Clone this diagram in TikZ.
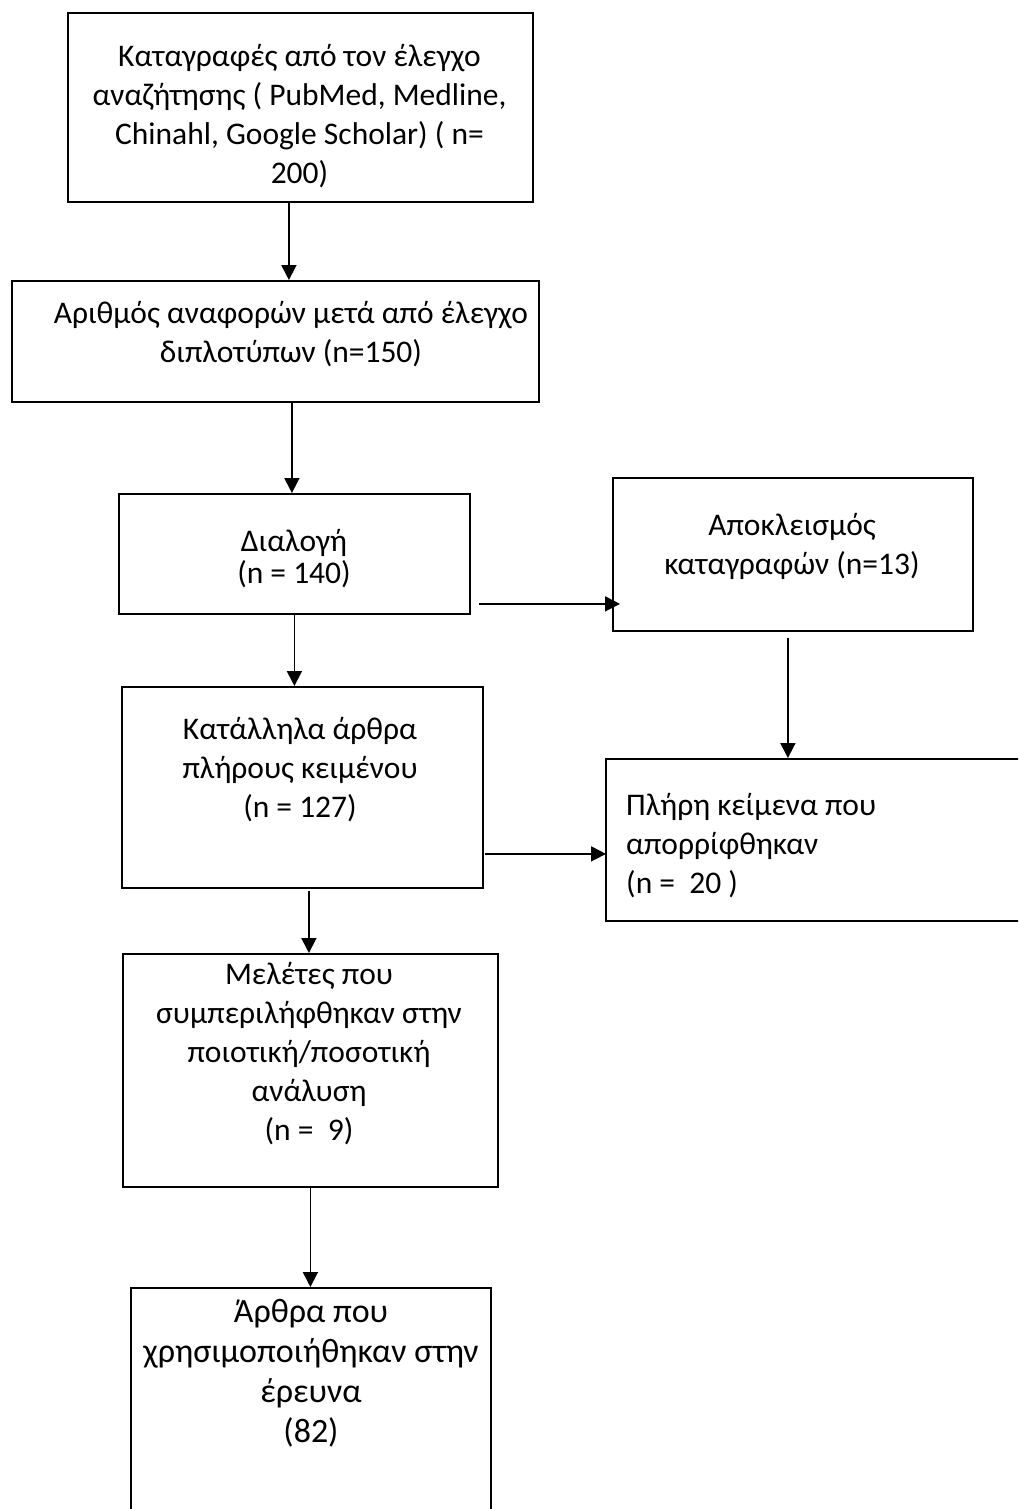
\documentclass[tikz,border=0pt]{standalone}
\usepackage{fontspec}
\setmainfont{Carlito}
\usetikzlibrary{arrows.meta,positioning}

\tikzset{
  box/.style={draw, line width=1.8pt, inner sep=0pt, anchor=north west},
  txt/.style={align=center, inner sep=0pt, anchor=base, font=\fontsize{31.5}{39}\selectfont},
  flow/.style={-{Triangle[length=15pt,width=15pt]}, line width=1.8pt},
}

\begin{document}
\begin{tikzpicture}[x=1pt,y=-1pt]
    \useasboundingbox (0,0) rectangle (1018,1509);
    \clip (0,0) rectangle (1018,1509);

    \node[box,minimum width=465pt,minimum height=189pt] (rec) at (67,12) {};
    \node[box,minimum width=527pt,minimum height=121pt] (dup) at (11,280) {};
    \node[box,minimum width=351pt,minimum height=120pt] (screen) at (118,493) {};
    \node[box,minimum width=360pt,minimum height=153pt] (excl) at (612,477) {};
    \node[box,minimum width=361pt,minimum height=201pt] (elig) at (121,686) {};
    \node[box,minimum width=420pt,minimum height=162pt] (rej) at (605,758) {};
    \node[box,minimum width=375pt,minimum height=233pt] (incl) at (122,953) {};
    \node[box,minimum width=360pt,minimum height=300pt] (used) at (130,1287) {};

    % text is placed by the baseline of its last line
    \node[txt] (rec-t) at (299.5,183) {Καταγραφές από τον έλεγχο\\αναζήτησης ( PubMed, Medline,\\Chinahl, Google Scholar) ( n=\\200)};
    \node[txt] (dup-t) at (291,362) {Αριθμός αναφορών μετά από έλεγχο\\διπλοτύπων (n=150)};
    \node[txt] (screen-t) at (294,583) {Διαλογή\\[-7pt](n = 140)};
    \node[txt] (excl-t) at (792,574) {Αποκλεισμός\\καταγραφών (n=13)};
    \node[txt] (elig-t) at (300,817) {Κατάλληλα άρθρα\\πλήρους κειμένου\\(n = 127)};
    \node[txt,align=left,anchor=base west] (rej-t) at (626,893) {Πλήρη κείμενα που\\απορρίφθηκαν\\(n =\ \ 20 )};
    \node[txt] (incl-t) at (309,1140) {Μελέτες που\\συμπεριλήφθηκαν στην\\ποιοτική/ποσοτική\\ανάλυση\\(n =\ \ 9)};
    \node[txt,font=\fontsize{34}{40}\selectfont] (used-t) at (311,1442) {Άρθρα που\\χρησιμοποιήθηκαν στην\\έρευνα\\(82)};

    \draw[flow] ([xshift=-11.5pt]rec.south) -- ([xshift=-11.5pt]rec.south |- dup.north);
    \draw[flow] ([xshift=16.5pt]dup.south) -- ([xshift=16.5pt]dup.south |- screen.north);
    \draw[flow] ([xshift=8pt,yshift=-50pt]screen.east) -- ([xshift=8pt,yshift=-50pt]screen.east -| excl.west);
    \draw[flow] (screen.south) -- (screen.south |- elig.north);
    \draw[flow] ([xshift=-5pt,yshift=-6pt]excl.south) -- ([xshift=-5pt]excl.south |- rej.north);
    \draw[flow] ([xshift=1pt,yshift=-66.5pt]elig.east) -- ([xshift=1pt,yshift=-66.5pt]elig.east -| rej.west);
    \draw[flow] ([xshift=6.5pt,yshift=-2pt]elig.south) -- ([xshift=6.5pt]elig.south |- incl.north);
    \draw[flow] (incl.south) -- (incl.south |- used.north);
\end{tikzpicture}
\end{document}
